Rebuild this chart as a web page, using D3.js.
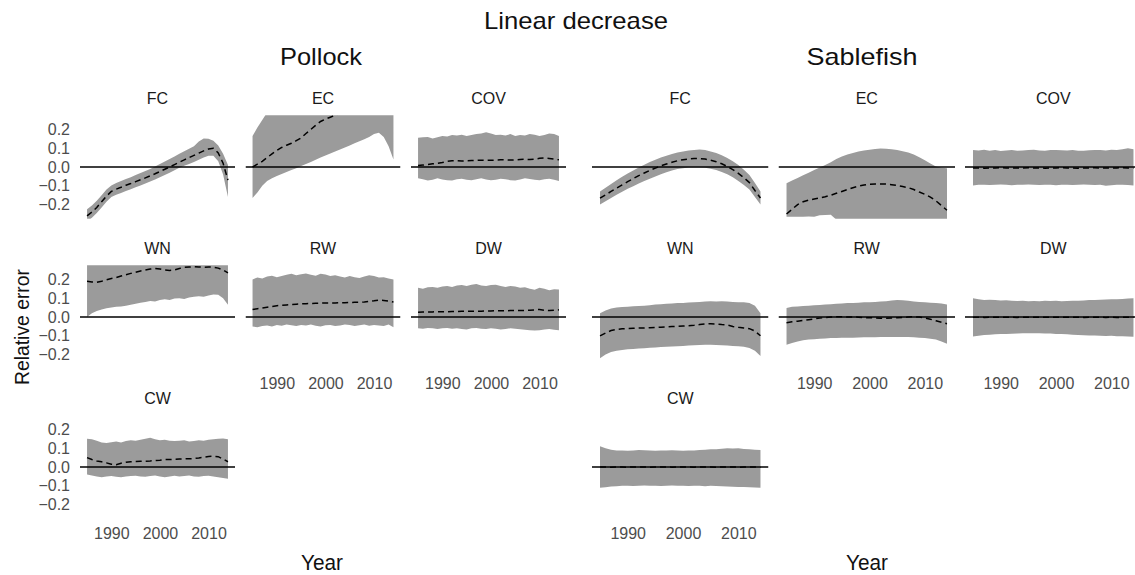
<!DOCTYPE html>
<html>
<head>
<meta charset="utf-8">
<script src="https://cdn.jsdelivr.net/npm/d3@7"></script>
<style>
  html, body { margin: 0; padding: 0; background: #fff; }
  svg { display: block; font-family: "Liberation Sans", Arial, sans-serif; }
</style>
</head>
<body>
<svg id="chart" width="1135" height="575"></svg>
<script>
// ---- Data: simulation years and relative-error summaries (lower / median / upper) ----
const years = [1985,1986,1987,1988,1989,1990,1991,1992,1993,1994,1995,1996,1997,1998,1999,
               2000,2001,2002,2003,2004,2005,2006,2007,2008,2009,2010,2011,2012,2013,2014];
const yTicks = [-0.2, -0.1, 0.0, 0.1, 0.2];
const xTicks = [1990, 2000, 2010];

// Pollock
const pollockFcLo  = [-0.29,-0.27,-0.245,-0.215,-0.185,-0.16,-0.148,-0.138,-0.127,-0.118,-0.108,-0.098,-0.088,-0.077,-0.066,-0.054,-0.042,-0.03,-0.017,-0.004,0.006,0.016,0.027,0.038,0.05,0.06,0.06,0.03,-0.04,-0.16];
const pollockFcMed = [-0.26,-0.24,-0.215,-0.185,-0.155,-0.13,-0.118,-0.108,-0.097,-0.088,-0.078,-0.068,-0.058,-0.047,-0.036,-0.024,-0.012,0.0,0.013,0.026,0.038,0.05,0.062,0.074,0.086,0.096,0.1,0.075,0.02,-0.07];
const pollockFcHi  = [-0.225,-0.205,-0.18,-0.15,-0.12,-0.098,-0.085,-0.075,-0.064,-0.054,-0.043,-0.032,-0.021,-0.01,0.003,0.016,0.029,0.042,0.056,0.07,0.084,0.097,0.11,0.135,0.152,0.15,0.14,0.115,0.07,0.01];

const pollockEcLo  = [-0.165,-0.135,-0.1,-0.075,-0.06,-0.048,-0.037,-0.026,-0.016,-0.006,0.005,0.016,0.027,0.038,0.05,0.061,0.072,0.082,0.093,0.104,0.115,0.126,0.137,0.148,0.16,0.175,0.182,0.16,0.11,0.04];
const pollockEcMed = [0.0,0.015,0.03,0.05,0.07,0.088,0.104,0.116,0.126,0.14,0.155,0.178,0.2,0.222,0.242,0.255,0.265,0.275,0.288,0.298,0.308,0.316,0.324,0.33,0.336,0.34,0.344,0.346,0.348,0.35];
const pollockEcHi  = [0.165,0.21,0.25,0.29,0.32,0.34,0.36,0.38,0.39,0.4,0.41,0.42,0.43,0.44,0.45,0.45,0.46,0.46,0.47,0.47,0.48,0.48,0.48,0.49,0.49,0.49,0.5,0.5,0.5,0.5];

const pollockCovLo  = [-0.06,-0.065,-0.072,-0.068,-0.06,-0.066,-0.07,-0.072,-0.065,-0.062,-0.068,-0.07,-0.065,-0.06,-0.066,-0.07,-0.068,-0.062,-0.065,-0.07,-0.072,-0.066,-0.06,-0.064,-0.068,-0.07,-0.065,-0.062,-0.068,-0.075];
const pollockCovMed = [0.008,0.01,0.013,0.017,0.02,0.024,0.03,0.033,0.033,0.032,0.033,0.034,0.035,0.036,0.035,0.036,0.037,0.038,0.038,0.037,0.038,0.04,0.041,0.04,0.042,0.046,0.048,0.045,0.042,0.038];
const pollockCovHi  = [0.155,0.158,0.16,0.152,0.158,0.165,0.162,0.17,0.168,0.172,0.165,0.17,0.175,0.178,0.185,0.178,0.17,0.172,0.168,0.175,0.165,0.17,0.168,0.175,0.172,0.165,0.17,0.178,0.175,0.165];

const pollockWnLo  = [0.0,0.02,0.032,0.04,0.046,0.05,0.054,0.056,0.06,0.065,0.07,0.076,0.08,0.085,0.082,0.09,0.094,0.09,0.098,0.1,0.096,0.104,0.108,0.11,0.108,0.115,0.12,0.118,0.1,0.065];
const pollockWnMed = [0.19,0.186,0.185,0.19,0.198,0.205,0.21,0.218,0.225,0.232,0.238,0.245,0.25,0.255,0.258,0.255,0.25,0.248,0.25,0.258,0.264,0.266,0.267,0.266,0.265,0.266,0.265,0.26,0.25,0.235];
const pollockWnHi  = [0.33,0.34,0.35,0.36,0.37,0.38,0.38,0.39,0.39,0.4,0.4,0.41,0.41,0.42,0.42,0.42,0.43,0.43,0.43,0.44,0.44,0.44,0.44,0.45,0.45,0.45,0.45,0.44,0.42,0.4];

const pollockRwLo  = [-0.05,-0.055,-0.048,-0.045,-0.05,-0.042,-0.046,-0.04,-0.044,-0.048,-0.042,-0.045,-0.04,-0.046,-0.05,-0.044,-0.042,-0.048,-0.045,-0.04,-0.043,-0.048,-0.044,-0.04,-0.046,-0.042,-0.045,-0.048,-0.04,-0.055];
const pollockRwMed = [0.04,0.044,0.048,0.052,0.056,0.06,0.062,0.064,0.066,0.068,0.07,0.071,0.072,0.073,0.074,0.075,0.075,0.075,0.076,0.076,0.077,0.078,0.078,0.08,0.083,0.086,0.09,0.088,0.085,0.08];
const pollockRwHi  = [0.2,0.21,0.205,0.215,0.22,0.212,0.218,0.225,0.23,0.222,0.228,0.232,0.225,0.22,0.23,0.226,0.218,0.222,0.215,0.21,0.218,0.212,0.208,0.215,0.222,0.218,0.21,0.212,0.205,0.2];

const pollockDwLo  = [-0.06,-0.062,-0.058,-0.06,-0.064,-0.06,-0.058,-0.062,-0.06,-0.064,-0.066,-0.06,-0.058,-0.062,-0.064,-0.06,-0.062,-0.066,-0.064,-0.06,-0.062,-0.065,-0.068,-0.07,-0.072,-0.07,-0.066,-0.064,-0.068,-0.07];
const pollockDwMed = [0.025,0.026,0.027,0.027,0.028,0.028,0.028,0.029,0.029,0.03,0.03,0.03,0.031,0.031,0.032,0.032,0.033,0.033,0.033,0.034,0.034,0.034,0.035,0.036,0.038,0.04,0.036,0.034,0.036,0.038];
const pollockDwHi  = [0.155,0.15,0.158,0.16,0.155,0.162,0.165,0.16,0.168,0.17,0.165,0.172,0.175,0.168,0.165,0.17,0.172,0.165,0.16,0.165,0.162,0.155,0.158,0.15,0.145,0.155,0.15,0.142,0.148,0.146];

const pollockCwLo  = [-0.04,-0.045,-0.05,-0.055,-0.05,-0.048,-0.052,-0.055,-0.05,-0.048,-0.046,-0.05,-0.052,-0.048,-0.045,-0.05,-0.054,-0.05,-0.046,-0.05,-0.048,-0.045,-0.05,-0.052,-0.048,-0.046,-0.05,-0.055,-0.058,-0.062];
const pollockCwMed = [0.05,0.04,0.032,0.028,0.022,0.015,0.012,0.02,0.025,0.028,0.029,0.03,0.031,0.032,0.034,0.036,0.04,0.04,0.041,0.042,0.043,0.044,0.045,0.048,0.052,0.056,0.057,0.055,0.042,0.028];
const pollockCwHi  = [0.15,0.148,0.14,0.13,0.128,0.132,0.135,0.13,0.138,0.142,0.14,0.145,0.15,0.155,0.148,0.142,0.145,0.14,0.138,0.14,0.142,0.135,0.138,0.142,0.14,0.145,0.148,0.15,0.152,0.148];

// Sablefish
const sableFcMed = [-0.166,-0.148,-0.13,-0.112,-0.095,-0.078,-0.062,-0.046,-0.032,-0.018,-0.006,0.006,0.016,0.025,0.033,0.039,0.043,0.045,0.045,0.042,0.036,0.028,0.017,0.003,-0.014,-0.034,-0.057,-0.083,-0.125,-0.165];
const sableFcHi  = [-0.13,-0.11,-0.09,-0.07,-0.052,-0.034,-0.018,-0.002,0.012,0.026,0.038,0.05,0.06,0.069,0.077,0.083,0.088,0.091,0.093,0.09,0.083,0.074,0.062,0.048,0.031,0.011,-0.014,-0.042,-0.085,-0.13];
const sableFcLo  = [-0.2,-0.182,-0.165,-0.148,-0.132,-0.116,-0.102,-0.088,-0.075,-0.062,-0.05,-0.038,-0.028,-0.019,-0.011,-0.006,-0.003,-0.002,-0.002,-0.004,-0.009,-0.016,-0.026,-0.039,-0.055,-0.074,-0.096,-0.12,-0.16,-0.2];

const sableEcLo  = [-0.264,-0.264,-0.265,-0.264,-0.263,-0.264,-0.256,-0.255,-0.254,-0.28,-0.285,-0.29,-0.29,-0.29,-0.29,-0.29,-0.29,-0.29,-0.29,-0.29,-0.29,-0.29,-0.29,-0.29,-0.29,-0.29,-0.29,-0.29,-0.29,-0.29];
const sableEcMed = [-0.25,-0.225,-0.2,-0.185,-0.176,-0.17,-0.164,-0.158,-0.15,-0.14,-0.13,-0.12,-0.11,-0.102,-0.096,-0.092,-0.09,-0.09,-0.091,-0.094,-0.098,-0.104,-0.11,-0.12,-0.133,-0.145,-0.16,-0.18,-0.205,-0.23];
const sableEcHi  = [-0.086,-0.072,-0.058,-0.044,-0.03,-0.016,-0.002,0.01,0.025,0.042,0.056,0.066,0.074,0.082,0.088,0.092,0.096,0.098,0.097,0.094,0.09,0.084,0.077,0.066,0.052,0.036,0.018,0.002,-0.004,-0.006];

const sableCovLo  = [-0.098,-0.095,-0.094,-0.096,-0.095,-0.093,-0.095,-0.097,-0.094,-0.095,-0.093,-0.095,-0.096,-0.094,-0.095,-0.097,-0.095,-0.094,-0.096,-0.095,-0.093,-0.094,-0.096,-0.095,-0.1,-0.097,-0.095,-0.094,-0.096,-0.098];
const sableCovMed = [-0.005,-0.005,-0.006,-0.005,-0.005,-0.004,-0.005,-0.006,-0.005,-0.005,-0.004,-0.005,-0.005,-0.006,-0.005,-0.005,-0.004,-0.005,-0.005,-0.006,-0.005,-0.005,-0.004,-0.005,-0.005,-0.006,-0.005,-0.004,-0.005,-0.005];
const sableCovHi  = [0.09,0.088,0.092,0.087,0.09,0.085,0.088,0.09,0.086,0.088,0.09,0.092,0.088,0.087,0.09,0.091,0.089,0.088,0.09,0.087,0.086,0.089,0.091,0.09,0.088,0.092,0.09,0.094,0.1,0.095];

const sableWnLo  = [-0.22,-0.2,-0.186,-0.18,-0.176,-0.172,-0.17,-0.168,-0.166,-0.164,-0.162,-0.16,-0.158,-0.157,-0.156,-0.154,-0.152,-0.15,-0.149,-0.148,-0.148,-0.149,-0.15,-0.152,-0.154,-0.156,-0.158,-0.165,-0.18,-0.207];
const sableWnMed = [-0.1,-0.085,-0.072,-0.066,-0.063,-0.061,-0.06,-0.059,-0.058,-0.057,-0.056,-0.054,-0.053,-0.051,-0.05,-0.048,-0.046,-0.044,-0.04,-0.037,-0.036,-0.037,-0.04,-0.042,-0.05,-0.055,-0.058,-0.062,-0.075,-0.1];
const sableWnHi  = [0.02,0.035,0.045,0.05,0.053,0.055,0.057,0.058,0.06,0.063,0.066,0.068,0.07,0.072,0.074,0.075,0.077,0.078,0.08,0.082,0.084,0.083,0.084,0.082,0.08,0.078,0.078,0.074,0.06,0.02];

const sableRwLo  = [-0.148,-0.138,-0.13,-0.124,-0.12,-0.118,-0.116,-0.114,-0.112,-0.112,-0.11,-0.11,-0.11,-0.109,-0.108,-0.108,-0.108,-0.107,-0.107,-0.106,-0.107,-0.106,-0.107,-0.108,-0.11,-0.112,-0.116,-0.12,-0.13,-0.142];
const sableRwMed = [-0.03,-0.025,-0.022,-0.018,-0.014,-0.01,-0.006,-0.003,0.0,0.001,0.001,0.0,0.0,-0.001,-0.003,-0.004,-0.005,-0.006,-0.006,-0.005,-0.004,-0.002,0.0,0.001,0.0,-0.005,-0.012,-0.02,-0.028,-0.036];
const sableRwHi  = [0.048,0.055,0.056,0.058,0.06,0.062,0.064,0.066,0.068,0.07,0.072,0.075,0.074,0.076,0.078,0.078,0.08,0.082,0.084,0.088,0.09,0.089,0.086,0.082,0.08,0.078,0.076,0.075,0.072,0.066];

const sableDwLo  = [-0.104,-0.1,-0.096,-0.094,-0.092,-0.09,-0.09,-0.089,-0.088,-0.087,-0.086,-0.086,-0.087,-0.088,-0.088,-0.09,-0.091,-0.092,-0.094,-0.096,-0.097,-0.098,-0.099,-0.1,-0.101,-0.1,-0.102,-0.103,-0.104,-0.105];
const sableDwMed = [-0.001,-0.001,-0.002,-0.001,-0.001,-0.002,-0.001,-0.001,-0.002,-0.001,-0.001,-0.001,-0.002,-0.001,-0.001,-0.001,-0.002,-0.001,-0.001,-0.001,-0.002,-0.001,-0.001,-0.001,-0.002,-0.001,-0.002,-0.002,-0.001,-0.001];
const sableDwHi  = [0.1,0.094,0.09,0.092,0.09,0.088,0.089,0.086,0.085,0.086,0.084,0.085,0.084,0.086,0.085,0.086,0.084,0.085,0.086,0.087,0.088,0.09,0.091,0.092,0.093,0.094,0.095,0.096,0.098,0.1];

const sableCwLo  = [-0.11,-0.108,-0.104,-0.102,-0.1,-0.1,-0.101,-0.1,-0.099,-0.1,-0.1,-0.101,-0.1,-0.099,-0.1,-0.1,-0.101,-0.1,-0.1,-0.102,-0.1,-0.101,-0.102,-0.104,-0.105,-0.106,-0.107,-0.108,-0.109,-0.11];
const sableCwMed = [0.0,0.0,-0.001,0.0,0.0,-0.001,0.0,0.0,0.0,-0.001,0.0,0.0,0.0,-0.001,0.0,0.0,0.0,-0.001,0.0,0.0,0.0,-0.001,0.0,0.0,0.0,-0.001,0.0,0.0,0.0,-0.001];
const sableCwHi  = [0.11,0.1,0.092,0.088,0.088,0.087,0.088,0.09,0.089,0.088,0.087,0.088,0.088,0.089,0.088,0.087,0.088,0.088,0.09,0.092,0.094,0.095,0.097,0.1,0.098,0.1,0.096,0.094,0.092,0.09];

// ---- Facet tables built from the arrays above ----
const pollockPanels = [
  { name: "FC",  row: 0, col: 0, lo: pollockFcLo,  med: pollockFcMed,  hi: pollockFcHi },
  { name: "EC",  row: 0, col: 1, lo: pollockEcLo,  med: pollockEcMed,  hi: pollockEcHi },
  { name: "COV", row: 0, col: 2, lo: pollockCovLo, med: pollockCovMed, hi: pollockCovHi },
  { name: "WN",  row: 1, col: 0, lo: pollockWnLo,  med: pollockWnMed,  hi: pollockWnHi },
  { name: "RW",  row: 1, col: 1, lo: pollockRwLo,  med: pollockRwMed,  hi: pollockRwHi },
  { name: "DW",  row: 1, col: 2, lo: pollockDwLo,  med: pollockDwMed,  hi: pollockDwHi },
  { name: "CW",  row: 2, col: 0, lo: pollockCwLo,  med: pollockCwMed,  hi: pollockCwHi }
];
const sablefishPanels = [
  { name: "FC",  row: 0, col: 0, lo: sableFcLo,  med: sableFcMed,  hi: sableFcHi },
  { name: "EC",  row: 0, col: 1, lo: sableEcLo,  med: sableEcMed,  hi: sableEcHi },
  { name: "COV", row: 0, col: 2, lo: sableCovLo, med: sableCovMed, hi: sableCovHi },
  { name: "WN",  row: 1, col: 0, lo: sableWnLo,  med: sableWnMed,  hi: sableWnHi },
  { name: "RW",  row: 1, col: 1, lo: sableRwLo,  med: sableRwMed,  hi: sableRwHi },
  { name: "DW",  row: 1, col: 2, lo: sableDwLo,  med: sableDwMed,  hi: sableDwHi },
  { name: "CW",  row: 2, col: 0, lo: sableCwLo,  med: sableCwMed,  hi: sableCwHi }
];

// ---- Layout ----
const svg = d3.select("#chart");
const rowTop0 = 115.3, rowStep = 150, panelH = 103.4;
const yDomain = [-0.275, 0.275];
const xPad = (2014 - 1985) * 0.05;
const xDomain = [1985 - xPad, 2014 + xPad];
const bandFill = "#9b9b9b";
const tickColor = "#4d4d4d";

const groups = [
  { title: "Pollock",   titleX: 321, left: 80,  panelW: 155,   gap: 10.5, yAxis: true,  yearX: 322, panels: pollockPanels },
  { title: "Sablefish", titleX: 862, left: 592, panelW: 176.5, gap: 10,   yAxis: false, yearX: 867, panels: sablefishPanels }
];

const fmt = d3.format(".1f");

groups.forEach((g, gi) => {
  const gSel = svg.append("g");
  g.panels.forEach((p, pi) => {
    const x0 = g.left + p.col * (g.panelW + g.gap);
    const top = rowTop0 + p.row * rowStep;
    const x = d3.scaleLinear().domain(xDomain).range([x0, x0 + g.panelW]);
    const y = d3.scaleLinear().domain(yDomain).range([top + panelH, top]);
    const clipId = `clip-${gi}-${pi}`;
    gSel.append("clipPath").attr("id", clipId)
      .append("rect").attr("x", x0).attr("y", top).attr("width", g.panelW).attr("height", panelH);

    const rows = years.map((yr, i) => ({ yr, lo: p.lo[i], med: p.med[i], hi: p.hi[i] }));
    const pg = gSel.append("g").attr("clip-path", `url(#${clipId})`);

    pg.append("path").datum(rows)
      .attr("fill", bandFill)
      .attr("d", d3.area().x(d => x(d.yr)).y0(d => y(d.lo)).y1(d => y(d.hi)));

    pg.append("line")
      .attr("x1", x0).attr("x2", x0 + g.panelW)
      .attr("y1", y(0)).attr("y2", y(0))
      .attr("stroke", "#000").attr("stroke-width", 1.3);

    pg.append("path").datum(rows)
      .attr("fill", "none").attr("stroke", "#000").attr("stroke-width", 1.5)
      .attr("stroke-dasharray", "6,4")
      .attr("d", d3.line().x(d => x(d.yr)).y(d => y(d.med)));

    // facet label
    gSel.append("text")
      .attr("x", x0 + g.panelW / 2).attr("y", top - 11)
      .attr("text-anchor", "middle").attr("font-size", 16).attr("fill", "#1a1a1a")
      .text(p.name);

    // y axis on the first column
    if (g.yAxis && p.col === 0) {
      const ax = gSel.append("g").attr("transform", `translate(${x0},0)`)
        .call(d3.axisLeft(y).tickValues(yTicks).tickSize(0).tickPadding(10).tickFormat(fmt));
      ax.select(".domain").remove();
      ax.selectAll("text").attr("font-size", 16).attr("fill", tickColor)
        .attr("font-family", "'Liberation Sans', Arial, sans-serif");
    }

    // x axis where nothing sits below
    const hasBelow = g.panels.some(q => q.col === p.col && q.row === p.row + 1);
    if (!hasBelow) {
      const ax = gSel.append("g").attr("transform", `translate(0,${top + panelH})`)
        .call(d3.axisBottom(x).tickValues(xTicks).tickSize(0).tickPadding(9).tickFormat(d3.format("d")));
      ax.select(".domain").remove();
      ax.selectAll("text").attr("font-size", 16).attr("fill", tickColor)
        .attr("font-family", "'Liberation Sans', Arial, sans-serif");
    }
  });

  // species heading
  svg.append("text")
    .attr("x", g.titleX).attr("y", 65)
    .attr("text-anchor", "middle").attr("font-size", 24).attr("fill", "#111")
    .attr("textLength", gi === 0 ? 82 : 111).attr("lengthAdjust", "spacingAndGlyphs")
    .text(g.title);

  // x title
  svg.append("text")
    .attr("x", g.yearX).attr("y", 570)
    .attr("text-anchor", "middle").attr("font-size", 22).attr("fill", "#111")
    .attr("textLength", 42).attr("lengthAdjust", "spacingAndGlyphs")
    .text("Year");
});

// main title
svg.append("text")
  .attr("x", 576).attr("y", 29)
  .attr("text-anchor", "middle").attr("font-size", 24).attr("fill", "#111")
  .attr("textLength", 184).attr("lengthAdjust", "spacingAndGlyphs")
  .text("Linear decrease");

// y title
svg.append("text")
  .attr("transform", "translate(29,327) rotate(-90)")
  .attr("text-anchor", "middle").attr("font-size", 20).attr("fill", "#111")
  .attr("textLength", 116).attr("lengthAdjust", "spacingAndGlyphs")
  .text("Relative error");
</script>
</body>
</html>
